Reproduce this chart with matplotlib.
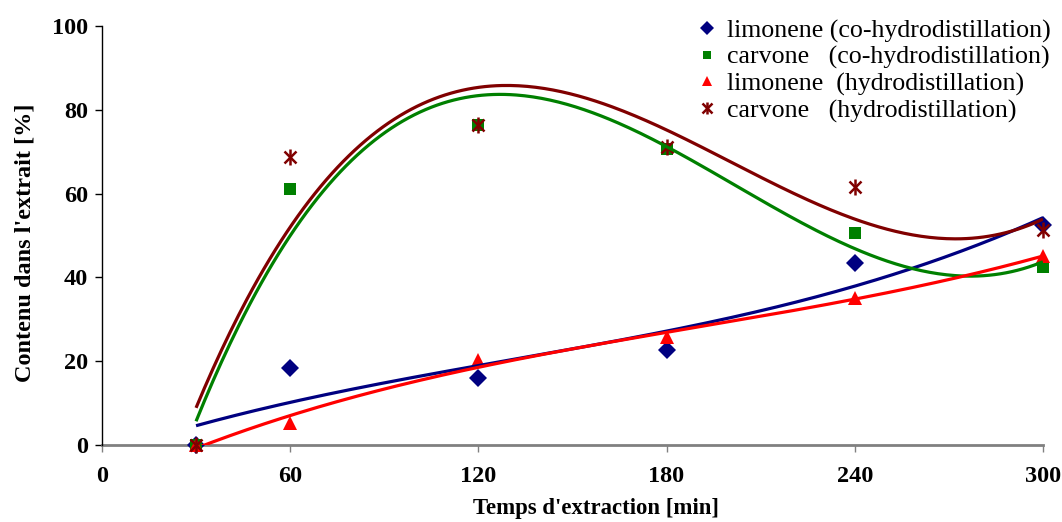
import numpy as np
import matplotlib
matplotlib.use("Agg")
import matplotlib.pyplot as plt
from matplotlib.legend_handler import HandlerTuple

# Extraction time (min) and content in the extract (%)
time_min = [30, 60, 120, 180, 240, 300]
limonene_co = [0.0, 18.5, 15.9, 22.7, 43.5, 52.5]
carvone_co = [0.0, 61.0, 76.4, 70.6, 50.5, 42.4]
limonene_hd = [0.0, 5.3, 20.3, 25.8, 35.1, 45.1]
carvone_hd = [0.0, 68.8, 76.4, 71.2, 61.6, 51.3]

labels = [
    "limonene (co-hydrodistillation)",
    "carvone   (co-hydrodistillation)",
    "limonene  (hydrodistillation)",
    "carvone   (hydrodistillation)",
]
x_ticks = [0, 60, 120, 180, 240, 300]
y_ticks = [0, 20, 40, 60, 80, 100]

series = [limonene_co, carvone_co, limonene_hd, carvone_hd]
colors = ["#000080", "#008000", "#FF0000", "#800000"]
markers = ["D", "s", "^", "star"]
msizes = [9.5, 8.5, 10, 9]

plt.rcParams["font.family"] = ["Liberation Serif", "DejaVu Serif"]

fig = plt.figure(figsize=(10.62, 5.22), dpi=100)
ax = fig.add_axes([0.096, 0.1475, 0.886, 0.8025])

x = np.asarray(time_min, dtype=float)
xs = np.linspace(x.min(), x.max(), 300)

handles = []
for ys, c, m, ms in zip(series, colors, markers, msizes):
    # cubic polynomial trend line
    coef = np.polyfit(x, ys, 3)
    ax.plot(xs, np.polyval(coef, xs), color=c, lw=2.3, zorder=4,
            solid_capstyle="butt")
    if m == "star":
        # asterisk marker: a cross with a vertical bar through it
        h1, = ax.plot(x, ys, linestyle="none", marker="x", markersize=ms,
                      markeredgewidth=1.8, color=c, clip_on=False, zorder=3)
        h2, = ax.plot(x, ys, linestyle="none", marker="|", markersize=ms + 2,
                      markeredgewidth=1.8, color=c, clip_on=False, zorder=3)
        handles.append((h1, h2))
    else:
        h, = ax.plot(x, ys, linestyle="none", marker=m, markersize=ms,
                     markeredgewidth=0, color=c, clip_on=False, zorder=3)
        handles.append(h)

ax.set_xlim(0, 300)
ax.set_ylim(0, 100)
ax.set_xticks(x_ticks)
ax.set_yticks(y_ticks)

for s in ("top", "right"):
    ax.spines[s].set_visible(False)
ax.spines["left"].set_color("black")
ax.spines["left"].set_linewidth(1.0)
ax.spines["bottom"].set_color("#808080")
ax.spines["bottom"].set_linewidth(2.0)
ax.spines["bottom"].set_zorder(2)

ax.tick_params(axis="y", direction="out", length=5, width=1, color="black",
               labelsize=17.5, pad=5)
ax.tick_params(axis="x", direction="out", length=5, width=1, color="#808080",
               labelsize=17.5, pad=10)
for t in ax.get_xticklabels() + ax.get_yticklabels():
    t.set_fontweight("bold")

ax.set_xlabel("Temps d'extraction [min]", fontsize=16.4, fontweight="bold")
ax.xaxis.set_label_coords(0.525, -0.127)
ax.set_ylabel("Contenu dans l'extrait [%]", fontsize=17.5, fontweight="bold")
ax.yaxis.set_label_coords(-0.071, 0.482)

leg = fig.legend(handles=handles, labels=labels, loc="upper left",
                 bbox_to_anchor=(0.646, 0.983), frameon=False,
                 fontsize=18.6, handlelength=0.8, handletextpad=0.4,
                 labelspacing=0.12, borderaxespad=0, markerscale=0.75,
                 handler_map={tuple: HandlerTuple(ndivide=1, pad=0)})

fig.savefig("out.png", dpi=100)
